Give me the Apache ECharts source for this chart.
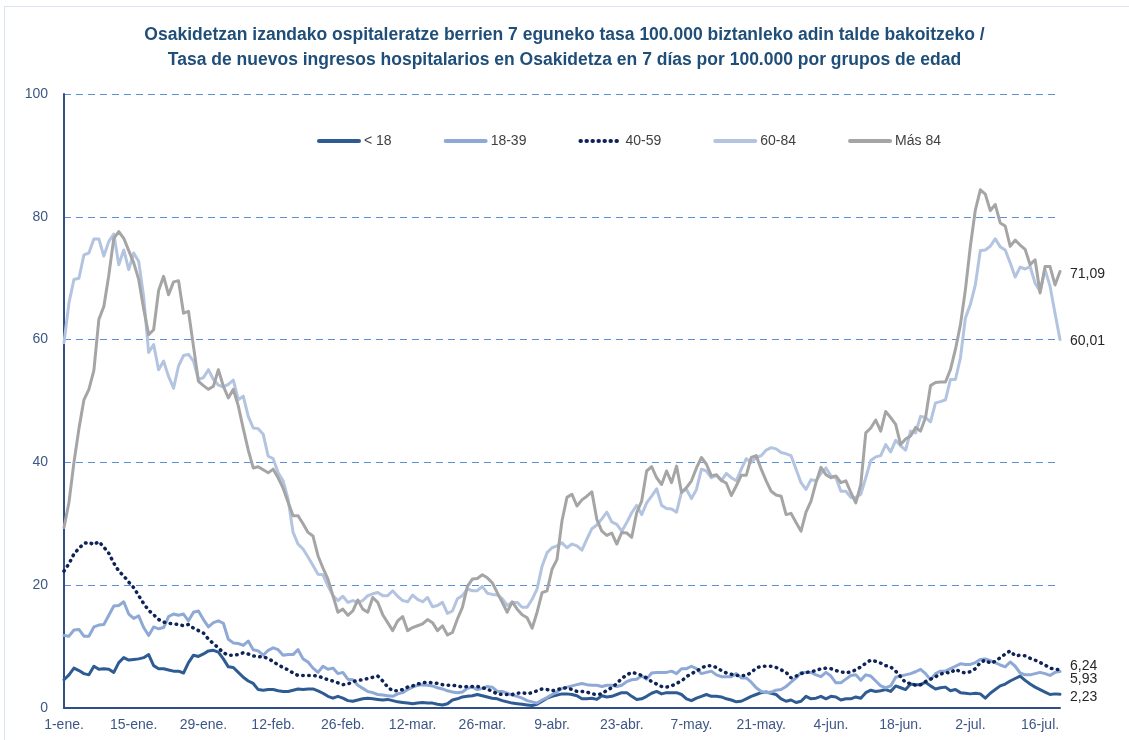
<!DOCTYPE html>
<html>
<head>
<meta charset="utf-8">
<title>Tasa de nuevos ingresos hospitalarios</title>
<script src="https://cdn.jsdelivr.net/npm/echarts@6/dist/echarts.min.js"></script>
<style>
  html, body { margin: 0; padding: 0; background: #fff; }
  #frame {
    position: absolute; left: 4px; top: 6px; width: 1140px; height: 760px;
    border-left: 1px solid #dbe3ee; border-top: 1px solid #dbe3ee;
  }
  #chart { position: absolute; left: 0; top: 0; width: 1129px; height: 740px; }
</style>
</head>
<body>
<div id="frame"></div>
<div id="chart"></div>
<script>
// months of 2022 shown on the axis (1-ene. .. 20-jul.)
const monthNames = ['ene', 'feb', 'mar', 'abr', 'may', 'jun', 'jul']
const monthDays = [31, 28, 31, 30, 31, 30, 20]

const seriesNames = ['< 18', '18-39', '40-59', '60-84', 'Más 84']

const under18 = [
  4.6, 5.4, 6.5, 6.1, 5.6, 5.4, 6.8, 6.3, 6.4, 6.3,
  5.8, 7.4, 8.2, 7.8, 7.9, 8.0, 8.2, 8.7, 6.9, 6.4,
  6.4, 6.2, 6.0, 6.0, 5.7, 7.4, 8.6, 8.4, 8.8, 9.3,
  9.4, 9.1, 8.0, 6.7, 6.6, 5.8, 5.0, 4.4, 4.0, 3.0,
  2.9, 3.0, 3.0, 2.8, 2.7, 2.7, 2.9, 3.1, 3.0, 3.1,
  3.1, 2.8, 2.4, 1.9, 1.6, 1.9, 1.6, 1.2, 1.1, 1.3,
  1.5, 1.6, 1.5, 1.4, 1.3, 1.4, 1.2, 1.0, 0.9, 0.8,
  0.7, 0.8, 0.9, 0.8, 0.8, 0.6, 0.5, 0.7, 1.3, 1.5,
  1.8, 1.9, 2.0, 2.2, 2.0, 1.8, 1.6, 1.5, 1.2, 1.0,
  0.8, 0.7, 0.6, 0.5, 0.4, 0.6, 1.1, 1.6, 1.9, 2.1,
  2.3, 2.3, 2.2, 2.0, 1.5, 1.5, 1.6, 1.4, 2.0, 1.8,
  1.9, 2.2, 2.5, 2.5, 1.9, 1.4, 1.5, 1.9, 2.4, 2.7,
  2.3, 2.5, 2.5, 2.5, 2.2, 1.5, 1.2, 1.6, 1.9, 2.2,
  1.9, 1.9, 1.8, 1.5, 1.3, 1.0, 1.1, 1.5, 1.9, 2.2,
  2.5, 2.6, 2.4, 2.2, 1.5, 1.1, 1.3, 0.9, 1.1, 1.9,
  1.5, 1.6, 1.9, 1.5, 1.9, 1.8, 1.3, 1.5, 1.5, 1.8,
  1.6, 2.5, 2.9, 2.7, 2.8, 3.0, 2.7, 3.6, 3.3, 3.0,
  3.9, 3.8, 3.8, 4.2, 3.6, 3.1, 3.3, 3.4, 2.8, 3.0,
  2.5, 2.4, 2.3, 2.4, 2.3, 1.6, 2.4, 3.0, 3.6, 3.9,
  4.4, 4.8, 5.2, 4.5, 3.9, 3.4, 3.0, 2.6, 2.2, 2.3,
  2.23
]

const age18to39 = [
  11.8, 11.7, 12.7, 12.8, 11.7, 11.7, 13.2, 13.5, 13.6, 15.1,
  16.6, 16.7, 17.3, 15.3, 14.6, 15.0, 13.1, 11.8, 13.2, 12.9,
  13.1, 14.9, 15.3, 15.1, 15.3, 14.2, 15.6, 15.8, 14.4, 13.2,
  13.9, 14.2, 13.8, 11.2, 10.6, 10.5, 10.2, 10.9, 9.5, 9.3,
  8.6, 9.4, 9.8, 9.5, 8.6, 8.7, 8.7, 9.5, 8.0, 7.5,
  6.5, 5.8, 6.8, 6.3, 6.5, 5.6, 5.8, 4.7, 4.6, 3.7,
  3.2, 2.7, 2.5, 2.2, 2.1, 2.0, 1.9, 2.3, 2.5, 3.0,
  3.4, 3.7, 3.8, 3.7, 3.6, 3.3, 3.1, 2.8, 2.6, 2.5,
  2.6, 3.2, 3.4, 3.0, 3.2, 3.5, 3.4, 2.7, 2.7, 2.4,
  2.1, 1.9, 1.6, 1.2, 1.0, 0.8, 1.3, 1.7, 2.2, 2.6,
  3.2, 3.4, 3.6, 3.8, 4.0, 3.8, 3.7, 3.7, 3.5, 3.7,
  3.7, 3.5, 3.7, 4.3, 4.6, 4.7, 5.2, 4.7, 5.7, 5.8,
  5.8, 5.8, 6.0, 5.6, 6.4, 6.4, 6.8, 6.4, 5.6, 5.8,
  6.0, 5.4, 5.1, 5.1, 5.1, 5.6, 4.9, 4.9, 4.2, 3.3,
  2.7, 2.5, 2.6, 2.9, 3.0, 3.5, 4.2, 4.9, 5.8, 5.8,
  5.8, 5.4, 5.1, 5.8, 5.2, 4.1, 4.1, 4.7, 5.3, 5.4,
  4.5, 5.4, 5.2, 4.4, 3.6, 3.3, 3.6, 5.0, 5.2, 5.4,
  5.6, 5.9, 6.3, 5.6, 4.6, 5.6, 6.0, 6.0, 6.4, 6.8,
  7.2, 7.1, 7.1, 7.4, 7.9, 8.0, 7.7, 7.4, 7.0, 6.7,
  7.5, 6.8, 5.7, 5.4, 5.4, 5.6, 5.8, 5.6, 5.3, 5.8,
  5.93
]

const age40to59 = [
  22.3, 23.5, 25.1, 26.0, 26.8, 27.0, 26.6, 27.1, 26.2, 25.2,
  23.6, 22.3, 21.5, 20.5, 19.6, 18.3, 17.0, 15.9, 15.2, 14.4,
  14.0, 13.8, 13.7, 13.6, 13.4, 13.6, 13.0, 12.6, 12.2, 11.2,
  10.5, 9.8, 9.0, 8.6, 8.6, 8.7, 9.0, 8.8, 8.5, 8.3,
  8.4, 8.0, 7.6, 7.0, 6.6, 6.2, 5.7, 5.3, 5.3, 5.3,
  5.3, 5.2, 4.9, 4.6, 4.4, 4.1, 3.8, 3.9, 4.3, 4.5,
  4.6, 4.8, 5.0, 5.2, 4.4, 3.4, 2.8, 2.8, 3.0, 3.4,
  3.6, 3.9, 4.1, 4.2, 4.1, 4.0, 3.8, 3.7, 3.7, 3.6,
  3.4, 3.5, 3.5, 3.5, 3.3, 3.1, 2.7, 2.3, 2.2, 2.2,
  2.2, 2.4, 2.5, 2.3, 2.5, 2.8, 3.1, 3.0, 2.8, 3.0,
  3.2, 3.3, 3.0, 2.7, 2.7, 2.6, 2.3, 2.2, 2.3, 2.9,
  3.3, 4.0, 4.8, 5.4, 5.8, 5.6, 5.3, 4.9, 4.3, 3.9,
  3.5, 3.4, 3.6, 4.0, 4.4, 5.1, 5.6, 6.0, 6.5, 6.9,
  6.9, 6.6, 6.1, 5.7, 5.5, 5.3, 5.3, 5.3, 5.8, 6.5,
  6.8, 6.8, 6.8, 6.6, 6.2, 5.8, 4.9, 5.2, 5.6, 5.8,
  5.9, 6.1, 6.4, 6.5, 6.4, 6.1, 5.9, 5.7, 5.9, 6.2,
  6.7, 7.3, 7.8, 7.6, 7.3, 6.9, 6.7, 6.0, 5.1, 4.1,
  4.0, 3.7, 3.8, 4.3, 4.7, 5.1, 5.5, 5.8, 5.7, 6.3,
  5.9, 5.7, 5.9, 6.4, 7.4, 7.8, 7.3, 7.6, 8.2, 8.8,
  9.3, 8.5, 8.6, 8.5, 8.1, 7.8, 7.4, 7.0, 6.5, 6.3,
  6.24
]

const age60to84 = [
  59.5, 66.0, 69.8, 70.0, 73.8, 74.1, 76.4, 76.4, 73.6, 76.0,
  77.2, 72.2, 74.6, 71.4, 74.1, 72.7, 67.0, 57.9, 59.2, 55.1,
  56.5, 54.0, 52.1, 55.7, 57.4, 57.6, 56.5, 53.5, 53.8, 55.1,
  53.5, 52.6, 52.3, 52.7, 53.4, 50.2, 50.8, 47.5, 45.6, 45.5,
  44.6, 41.0, 40.6, 38.3, 37.0, 34.0, 28.6, 26.7, 25.9, 24.6,
  23.2, 21.8, 21.7, 19.9, 18.3, 17.5, 18.2, 17.2, 17.5, 17.2,
  17.5, 18.3, 18.6, 18.8, 18.3, 18.3, 19.1, 18.2, 17.5, 17.3,
  18.4, 17.7, 17.3, 18.0, 16.5, 16.7, 17.2, 15.4, 15.8, 17.8,
  18.3, 19.4, 19.1, 19.1, 19.8, 18.7, 18.5, 18.4, 17.8, 16.7,
  17.2, 17.2, 16.4, 16.4, 17.7, 19.4, 23.1, 25.3, 26.1, 26.4,
  26.9, 26.1, 26.7, 26.4, 25.7, 27.5, 29.2, 29.8, 30.8, 31.9,
  30.3, 29.9, 28.8, 30.2, 31.8, 33.0, 31.5, 33.4, 34.5, 35.7,
  33.0, 32.5, 32.4, 31.9, 35.2, 35.6, 34.1, 35.6, 38.9, 38.6,
  37.5, 37.9, 37.0, 38.2, 37.5, 37.0, 38.9, 40.6, 40.0, 40.8,
  41.1, 42.0, 42.4, 42.2, 41.6, 41.4, 41.1, 38.9, 36.7, 35.6,
  37.2, 37.0, 38.2, 39.1, 37.8, 37.5, 35.3, 35.3, 34.3, 34.3,
  34.8, 37.5, 40.3, 40.9, 41.1, 42.9, 41.7, 43.6, 42.7, 42.0,
  45.1, 44.8, 47.5, 47.3, 46.6, 49.7, 49.9, 50.2, 53.5, 53.5,
  57.0, 63.5, 65.7, 68.9, 74.5, 74.6, 75.2, 76.4, 75.1, 74.6,
  72.5, 70.2, 71.8, 71.5, 71.9, 69.2, 67.9, 71.4, 68.7, 64.3,
  60.01
]

const over84 = [
  29.4, 33.5, 40.0, 45.5, 50.2, 51.9, 55.0, 63.3, 65.4, 70.5,
  76.5, 77.6, 76.5, 74.5, 72.5, 69.8, 65.0, 60.8, 61.6, 68.0,
  70.3, 67.3, 69.4, 69.6, 64.3, 64.6, 58.9, 53.2, 52.5, 51.9,
  52.4, 55.1, 52.4, 50.5, 51.9, 49.2, 45.5, 42.0, 39.1, 39.3,
  38.8, 38.3, 38.9, 37.5, 35.8, 33.5, 31.3, 31.3, 30.0, 28.6,
  28.0, 24.8, 22.8, 21.0, 18.3, 15.6, 16.1, 15.1, 15.8, 17.6,
  16.1, 15.6, 18.0, 17.2, 15.2, 13.9, 12.6, 14.2, 14.9, 12.6,
  13.1, 13.4, 13.7, 14.4, 13.9, 12.6, 13.4, 11.9, 12.3, 14.5,
  16.4, 19.8, 21.0, 21.1, 21.7, 21.2, 20.4, 18.8, 17.2, 15.6,
  17.3, 16.1, 15.2, 14.7, 13.0, 15.6, 18.8, 19.1, 22.6, 24.2,
  30.5, 34.3, 34.8, 32.9, 33.9, 34.5, 35.2, 30.7, 28.8, 28.1,
  28.5, 26.7, 28.6, 28.5, 27.8, 31.8, 33.7, 38.6, 39.3, 37.5,
  36.4, 38.6, 36.7, 39.4, 35.1, 35.9, 37.0, 39.1, 40.8, 39.7,
  37.8, 38.0, 37.1, 36.6, 34.6, 36.2, 37.9, 37.9, 40.8, 41.1,
  38.9, 37.0, 35.3, 34.7, 34.5, 31.5, 31.7, 30.2, 28.8, 31.9,
  33.7, 36.7, 39.2, 38.0, 37.5, 37.8, 36.7, 37.0, 35.1, 33.4,
  36.4, 44.8, 45.6, 46.9, 45.1, 48.3, 47.3, 46.2, 42.9, 43.8,
  44.3, 45.7, 45.1, 47.3, 52.5, 53.0, 53.1, 53.1, 55.1, 58.4,
  62.4, 68.1, 75.2, 81.1, 84.4, 83.7, 81.0, 82.0, 79.0, 78.5,
  75.2, 76.2, 75.4, 74.7, 72.2, 73.0, 67.6, 71.9, 71.9, 68.9,
  71.09
]

const yTicks = { min: 0, max: 100, interval: 20 }

const categories = []
monthNames.forEach((m, i) => {
  for (let d = 1; d <= monthDays[i]; d++) categories.push(d + '-' + m + '.')
})

const FONT = '"Liberation Sans", Arial, sans-serif'
const AXIS_TEXT = '#3d5785'

function fmt(v) {
  return v.toFixed(2).replace('.', ',')
}

function endLabel(offset) {
  return {
    show: true,
    formatter: p => fmt(p.value),
    color: '#262626',
    fontFamily: FONT,
    fontSize: 14,
    distance: 10,
    offset: offset || [0, 0]
  }
}

function lineSeries(name, data, color, extra) {
  return Object.assign({
    name,
    type: 'line',
    data,
    showSymbol: false,
    symbol: 'none',
    smooth: false,
    lineStyle: { color, width: 3, cap: 'round', join: 'round' },
    itemStyle: { color },
    endLabel: endLabel()
  }, extra || {})
}

const chart = echarts.init(document.getElementById('chart'), null, { renderer: 'canvas' })

chart.setOption({
  animation: false,
  backgroundColor: 'transparent',
  title: {
    text: 'Osakidetzan izandako ospitaleratze berrien 7 eguneko tasa 100.000 biztanleko adin talde bakoitzeko /\nTasa de nuevos ingresos hospitalarios en Osakidetza en 7 días por 100.000 por grupos de edad',
    left: 'center',
    top: 18,
    textStyle: {
      color: '#1f4e79',
      fontFamily: FONT,
      fontWeight: 'bold',
      fontSize: 17.5,
      lineHeight: 25
    }
  },
  legend: {
    top: 129,
    left: 312,
    itemWidth: 40,
    itemHeight: 12,
    itemGap: 52,
    itemStyle: { opacity: 0, borderWidth: 0 },
    lineStyle: { width: 4 },
    textStyle: { color: '#404040', fontFamily: FONT, fontSize: 14 },
    data: seriesNames
  },
  grid: { left: 64, right: 69, top: 94, bottom: 32, containLabel: false },
  xAxis: {
    type: 'category',
    data: categories,
    boundaryGap: false,
    axisLine: { show: true, lineStyle: { color: '#2f4f86', width: 2 } },
    axisTick: { show: false },
    axisLabel: {
      interval: 13,
      color: AXIS_TEXT,
      fontFamily: FONT,
      fontSize: 14,
      margin: 10
    },
    splitLine: { show: false }
  },
  yAxis: {
    type: 'value',
    min: yTicks.min,
    max: yTicks.max,
    interval: yTicks.interval,
    axisLine: { show: true, lineStyle: { color: '#2f4f86', width: 2 } },
    axisTick: { show: false },
    axisLabel: { color: AXIS_TEXT, fontFamily: FONT, fontSize: 14, margin: 16 },
    splitLine: { show: true, lineStyle: { color: '#5b8fd6', width: 1, type: [7, 5] } }
  },
  series: [
    lineSeries(seriesNames[0], under18, '#2f5b93', { endLabel: endLabel([0, 3]) }),
    lineSeries(seriesNames[1], age18to39, '#8ea9d5', { endLabel: endLabel([0, 8]) }),
    lineSeries(seriesNames[2], age40to59, '#0e2357', {
      lineStyle: { color: '#0e2357', width: 3.5, type: [0.5, 5.5], cap: 'round' },
      endLabel: endLabel([0, -4])
    }),
    lineSeries(seriesNames[3], age60to84, '#b3c4e0', { endLabel: endLabel([0, 2]) }),
    lineSeries(seriesNames[4], over84, '#a5a5a5', { endLabel: endLabel([0, 3]) })
  ]
})
</script>
</body>
</html>
